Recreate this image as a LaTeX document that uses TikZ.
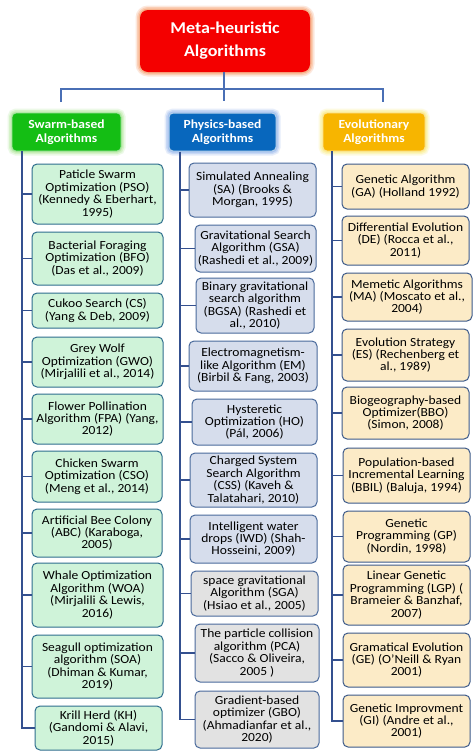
\documentclass[tikz,border=0pt]{standalone}
\usepackage{fontspec}
\setmainfont{Carlito}[FakeStretch=1.09]
\definecolor{spine}{HTML}{34508F}
\definecolor{topline}{HTML}{4A6FB5}
\definecolor{swfill}{HTML}{CFF3D9}
\definecolor{swdraw}{HTML}{2F6E8E}
\definecolor{phfill}{HTML}{D6DDEC}
\definecolor{phdraw}{HTML}{4A6A9C}
\definecolor{grfill}{HTML}{E2E2E2}
\definecolor{evfill}{HTML}{FCEBC7}
\definecolor{evdraw}{HTML}{3C5A8A}
\definecolor{metared}{HTML}{F40000}
\definecolor{metaglow}{HTML}{F7A77A}
\definecolor{swcat}{HTML}{14BE14}
\definecolor{swglow}{HTML}{B5E8A0}
\definecolor{phcat}{HTML}{0867BD}
\definecolor{phglow}{HTML}{9DBBEE}
\definecolor{evcat}{HTML}{F7B500}
\definecolor{evglow}{HTML}{FBEE8A}
\tikzset{
  glow/.style={preaction={draw=#1,line width=9pt,opacity=0.25},
               preaction={draw=#1,line width=6pt,opacity=0.4},
               preaction={draw=#1,line width=3pt,opacity=0.7}},
  leaf/.style={rounded corners=5pt,draw,line width=1pt,align=center,
               inner sep=1pt,font=\fontsize{12.4}{12.4}\selectfont},
  swleaf/.style={leaf,fill=swfill,draw=swdraw},
  phleaf/.style={leaf,fill=phfill,draw=phdraw},
  grleaf/.style={leaf,fill=grfill,draw=phdraw},
  evleaf/.style={leaf,fill=evfill,draw=evdraw},
  catbox/.style={rounded corners=4pt,align=center,text=white,
                 font=\fontsize{12.4}{13.8}\selectfont\bfseries,inner sep=1pt},
  link/.style={draw=spine,line width=1.3pt},
  toplink/.style={draw=topline,line width=1.3pt},
}
\begin{document}
\begin{tikzpicture}[x=1pt,y=-1pt]
\useasboundingbox[fill=white] (0,0) rectangle (474,753);

% top
\node[rounded corners=8pt,fill=metared,glow=metaglow,text=white,align=center,
      font=\fontsize{16.5}{23}\selectfont\bfseries,minimum width=170pt,minimum height=62pt,inner sep=0pt]
      (meta) at (225,41) {Meta-heuristic\\Algorithms};

\node[catbox,fill=swcat,draw=white!60!swcat,line width=.8pt,glow=swglow,minimum width=109pt,minimum height=38pt] (swarm) at (66.5,132) {Swarm-based\\Algorithms};
\node[catbox,fill=phcat,draw=white!70!phcat,line width=1pt,glow=phglow,minimum width=107pt,minimum height=38pt] (phys) at (222.5,132) {Physics-based\\Algorithms};
\node[catbox,fill=evcat,draw=white!60!evcat,line width=.8pt,glow=evglow,minimum width=102pt,minimum height=38pt] (evol) at (374,132) {Evolutionary\\Algorithms};

\coordinate (jl) at (61,89);
\coordinate (jm) at (224,89);
\coordinate (jr) at (383,89);
\coordinate (dl) at (61,102);
\coordinate (dm) at (224,101);
\coordinate (dr) at (383,102);
\draw[toplink] (meta.south -| jm) -- (dm);
\draw[toplink] (dl) -- (jl) -- (jr) -- (dr);

% swarm column
\node[swleaf,minimum width=131pt,minimum height=60pt] (pso) at (97.5,194) {Paticle Swarm\\Optimization (PSO)\\(Kennedy \& Eberhart,\\1995)};
\node[swleaf,minimum width=131pt,minimum height=53pt] (bfo) at (97.5,258.5) {Bacterial Foraging\\Optimization (BFO)\\(Das et al., 2009)};
\node[swleaf,minimum width=131pt,minimum height=35pt] (cs) at (97.5,310.5) {Cukoo Search (CS)\\(Yang \& Deb, 2009)};
\node[swleaf,minimum width=131pt,minimum height=50pt] (gwo) at (97.5,362) {Grey Wolf\\Optimization (GWO)\\(Mirjalili et al., 2014)};
\node[swleaf,minimum width=131pt,minimum height=50pt] (fpa) at (97.5,419) {Flower Pollination\\Algorithm (FPA) (Yang,\\2012)};
\node[swleaf,minimum width=130pt,minimum height=51pt] (cso) at (97,476.5) {Chicken Swarm\\Optimization (CSO)\\(Meng et al., 2014)};
\node[swleaf,minimum width=130pt,minimum height=48pt] (abc) at (97,533) {Artificial Bee Colony\\(ABC) (Karaboga,\\2005)};
\node[swleaf,minimum width=131pt,minimum height=64pt] (woa) at (97.5,595) {Whale Optimization\\Algorithm (WOA)\\(Mirjalili \& Lewis,\\2016)};
\node[swleaf,minimum width=131pt,minimum height=63pt] (soa) at (97.5,666.5) {Seagull optimization\\algorithm (SOA)\\(Dhiman \& Kumar,\\2019)};
\node[swleaf,minimum width=127pt,minimum height=44pt] (kh) at (98.5,728) {Krill Herd (KH)\\(Gandomi \& Alavi,\\2015)};

\coordinate (sws) at (22,0);
\draw[link] (swarm.south -| sws) -- (sws |- kh.west) -- (kh.west);
\foreach \n in {pso,bfo,cs,gwo,fpa,cso,abc,woa,soa}
  \draw[link] (sws |- \n.west) -- (\n.west);

% physics column
\node[phleaf,minimum width=127pt,minimum height=54pt] (sa) at (252.5,190) {Simulated Annealing\\(SA) (Brooks \&\\Morgan, 1995)};
\node[phleaf,minimum width=121pt,minimum height=47pt] (gsa) at (255.5,248.5) {Gravitational Search\\Algorithm (GSA)\\(Rashedi et al., 2009)};
\node[phleaf,minimum width=118pt,minimum height=55pt] (bgsa) at (255,305.5) {Binary gravitational\\search algorithm\\(BGSA) (Rashedi et\\al., 2010)};
\node[phleaf,minimum width=128pt,minimum height=50pt] (em) at (253,366) {Electromagnetism-\\like Algorithm (EM)\\(Birbil \& Fang, 2003)};
\node[phleaf,minimum width=125pt,minimum height=46pt] (ho) at (254.5,422) {Hysteretic\\Optimization (HO)\\(Pál, 2006)};
\node[phleaf,minimum width=127pt,minimum height=54pt] (css) at (253.5,480) {Charged System\\Search Algorithm\\(CSS) (Kaveh \&\\Talatahari, 2010)};
\node[phleaf,minimum width=127pt,minimum height=48pt] (iwd) at (253.5,539) {Intelligent water\\drops (IWD) (Shah-\\Hosseini, 2009)};
\node[grleaf,minimum width=127pt,minimum height=45pt] (sga) at (254.5,593.5) {space gravitational\\Algorithm (SGA)\\(Hsiao et al., 2005)};
\node[grleaf,minimum width=124pt,minimum height=58pt] (pca) at (257,653) {The particle collision\\algorithm (PCA)\\(Sacco \& Oliveira,\\2005 )};
\node[grleaf,minimum width=124pt,minimum height=57pt] (gbo) at (257,719.5) {Gradient-based\\optimizer (GBO)\\(Ahmadianfar et al.,\\2020)};

\coordinate (phs) at (180,0);
\draw[link] (phys.south -| phs) -- (phs |- gbo.west) -- (gbo.west);
\foreach \n in {sa,gsa,bgsa,em,ho,css,iwd,sga,pca}
  \draw[link] (phs |- \n.west) -- (\n.west);

% evolutionary column
\node[evleaf,minimum width=127pt,minimum height=45pt] (ga) at (405.5,186.5) {Genetic Algorithm\\(GA) (Holland 1992)};
\node[evleaf,minimum width=127pt,minimum height=49pt] (de) at (405.5,240.5) {Differential Evolution\\(DE) (Rocca et al.,\\2011)};
\node[evleaf,minimum width=130pt,minimum height=48pt] (ma) at (407,297) {Memetic Algorithms\\(MA) (Moscato et al.,\\2004)};
\node[evleaf,minimum width=127pt,minimum height=52pt] (es) at (405.5,355) {Evolution Strategy\\(ES) (Rechenberg et\\al., 1989)};
\node[evleaf,minimum width=127pt,minimum height=52pt] (bbo) at (405.5,413) {Biogeography-based\\Optimizer(BBO)\\(Simon, 2008)};
\node[evleaf,minimum width=127pt,minimum height=55pt] (pbil) at (406.5,475.5) {Population-based\\Incremental Learning\\(BBIL) (Baluja, 1994)};
\node[evleaf,minimum width=127pt,minimum height=51pt] (gp) at (406.5,536.5) {Genetic\\Programming (GP)\\(Nordin, 1998)};
\node[evleaf,minimum width=127pt,minimum height=60pt] (lgp) at (406.5,595) {Linear Genetic\\Programming (LGP) (\\Brameier \& Banzhaf,\\2007)};
\node[evleaf,minimum width=127pt,minimum height=54pt] (ge) at (406.5,660) {Gramatical Evolution\\(GE) (O'Neill \& Ryan\\2001)};
\node[evleaf,minimum width=127pt,minimum height=52pt] (gi) at (406.5,721) {Genetic Improvment\\(GI) (Andre et al.,\\2001)};

\coordinate (evs) at (332,0);
\draw[link] (evol.south -| evs) -- (evs |- gi.west) -- (gi.west);
\foreach \n in {ga,de,ma,es,bbo,pbil,gp,lgp,ge}
  \draw[link] (evs |- \n.west) -- (\n.west);
\end{tikzpicture}
\end{document}
